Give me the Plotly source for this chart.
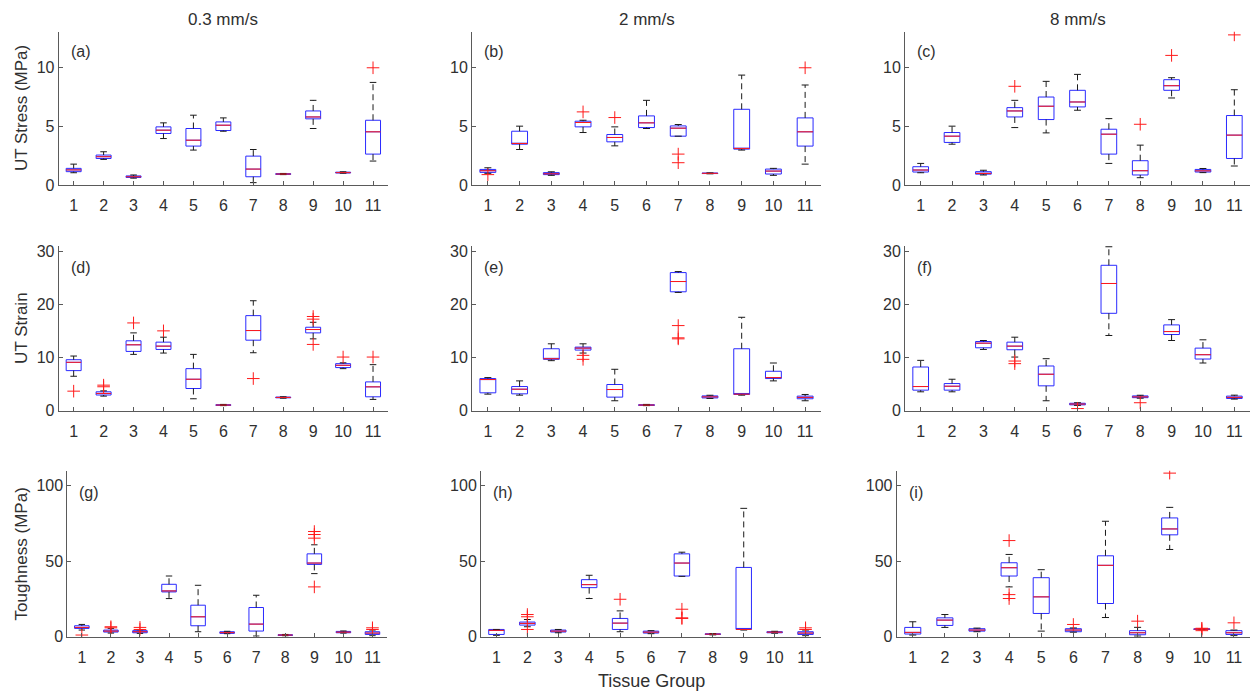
import plotly.graph_objects as go

groups = list(range(1, 12))
col_titles = ["0.3 mm/s", "2 mm/s", "8 mm/s"]
row_titles = ["UT Stress (MPa)", "UT Strain", "Toughness (MPa)"]
panel_tags = ["(a)", "(b)", "(c)", "(d)", "(e)", "(f)", "(g)", "(h)", "(i)"]
x_title = "Tissue Group"

# ---- (a) UT Stress, 0.3 mm/s
a_lo = [1.04, 2.17, 0.58, 3.94, 2.96, 4.56, 0.20, 0.88, 4.79, 1.00, 2.03]
a_q1 = [1.13, 2.25, 0.64, 4.37, 3.30, 4.62, 0.70, 0.90, 5.61, 1.02, 2.62]
a_med = [1.28, 2.40, 0.70, 4.65, 3.80, 5.07, 1.35, 0.93, 5.77, 1.05, 4.51]
a_q3 = [1.41, 2.54, 0.77, 4.93, 4.79, 5.35, 2.45, 0.96, 6.28, 1.09, 5.49]
a_hi = [1.77, 2.82, 0.85, 5.27, 5.92, 5.69, 3.01, 0.98, 7.18, 1.12, 8.70]
a_out = [[], [], [], [], [], [], [], [], [], [], [9.94]]

# ---- (b) UT Stress, 2 mm/s
b_lo = [0.99, 3.01, 0.82, 4.45, 3.32, 4.79, 4.14, 0.95, 2.96, 0.82, 1.77]
b_q1 = [1.07, 3.46, 0.88, 4.93, 3.66, 4.87, 4.14, 0.97, 3.04, 0.93, 3.30]
b_med = [1.21, 3.52, 0.95, 5.30, 4.03, 5.27, 4.82, 0.99, 3.10, 1.18, 4.51]
b_q3 = [1.32, 4.56, 1.05, 5.41, 4.28, 5.86, 5.01, 1.01, 6.42, 1.35, 5.69]
b_hi = [1.46, 4.99, 1.12, 5.49, 4.93, 7.18, 5.13, 1.03, 9.32, 1.41, 8.48]
b_out = [[0.88], [], [], [6.20], [5.72], [], [2.62, 1.89], [], [], [], [9.94]]

# ---- (c) UT Stress, 8 mm/s
c_lo = [1.04, 3.46, 0.85, 4.87, 4.42, 6.34, 1.83, 0.62, 7.38, 1.05, 1.61]
c_q1 = [1.10, 3.61, 0.92, 5.77, 5.55, 6.62, 2.62, 0.85, 8.03, 1.10, 2.25]
c_med = [1.27, 4.14, 0.98, 6.28, 6.68, 7.04, 4.31, 1.21, 8.42, 1.20, 4.23]
c_q3 = [1.55, 4.45, 1.13, 6.56, 7.46, 8.03, 4.73, 2.06, 8.93, 1.32, 5.89]
c_hi = [1.83, 4.99, 1.25, 7.18, 8.79, 9.38, 5.63, 3.38, 9.10, 1.40, 8.08]
c_out = [[], [], [], [8.37], [], [], [], [5.15], [10.99], [], [12.73]]

# ---- (d) UT Strain, 0.3 mm/s
d_lo = [6.47, 2.74, 10.58, 10.83, 2.24, 0.95, 10.89, 2.35, 13.50, 7.90, 2.12]
d_q1 = [7.53, 2.95, 11.14, 11.51, 4.17, 1.00, 13.25, 2.42, 14.62, 8.10, 2.61]
d_med = [9.09, 3.24, 12.38, 12.13, 5.91, 1.06, 15.06, 2.49, 15.25, 8.53, 4.48]
d_q3 = [9.58, 3.55, 13.13, 12.88, 7.90, 1.12, 17.86, 2.56, 15.68, 8.84, 5.41]
d_hi = [10.27, 3.73, 14.62, 13.81, 10.58, 1.18, 20.66, 2.62, 16.61, 9.00, 8.65]
d_out = [[3.67], [4.50, 4.80], [16.49], [15.00], [], [], [6.04], [],
         [17.20, 17.70, 12.45], [10.08], [10.08]]

# ---- (e) UT Strain, 2 mm/s
e_lo = [3.11, 2.92, 9.40, 10.83, 1.87, 0.95, 22.22, 2.30, 2.92, 5.60, 1.87]
e_q1 = [3.36, 3.17, 9.65, 11.39, 2.55, 1.00, 22.34, 2.40, 3.05, 6.04, 2.24]
e_med = [5.85, 4.04, 9.77, 11.76, 3.98, 1.06, 24.27, 2.60, 3.11, 6.22, 2.50]
e_q3 = [6.04, 4.54, 11.64, 11.95, 4.92, 1.12, 25.95, 2.78, 11.64, 7.41, 2.74]
e_hi = [6.22, 5.60, 12.57, 12.57, 7.78, 1.18, 26.14, 2.90, 17.55, 8.96, 3.05]
e_out = [[], [], [], [9.65, 10.40], [], [], [15.99, 13.69, 13.50], [], [], [], []]

# ---- (f) UT Strain, 8 mm/s
f_lo = [3.55, 3.55, 11.51, 10.08, 1.87, 1.00, 14.13, 2.35, 13.19, 8.96, 2.18]
f_q1 = [3.86, 3.86, 11.82, 11.45, 4.67, 1.10, 18.30, 2.45, 14.31, 9.71, 2.30]
f_med = [4.54, 4.60, 12.69, 12.13, 6.85, 1.25, 23.90, 2.60, 14.87, 10.52, 2.50]
f_q3 = [8.21, 5.10, 13.00, 12.88, 8.40, 1.40, 27.32, 2.78, 16.12, 11.76, 2.74]
f_hi = [9.46, 5.91, 13.19, 13.81, 9.77, 1.50, 30.80, 2.90, 17.11, 13.32, 2.92]
f_out = [[], [], [], [9.33, 8.84], [], [0.40], [], [1.50], [], [], []]

# ---- (g) Toughness, 0.3 mm/s
g_lo = [4.40, 2.40, 2.20, 25.27, 3.30, 2.00, 0.44, 0.60, 41.80, 2.40, 0.66]
g_q1 = [5.49, 3.08, 2.60, 29.67, 7.25, 2.20, 3.74, 0.80, 47.90, 2.60, 1.50]
g_med = [6.15, 3.70, 3.30, 30.33, 13.19, 2.70, 8.35, 1.10, 48.80, 3.00, 2.40]
g_q3 = [7.25, 4.40, 4.00, 34.73, 20.88, 3.30, 19.34, 1.30, 54.90, 3.50, 3.30]
g_hi = [8.13, 5.50, 4.60, 40.22, 34.07, 3.60, 27.47, 1.50, 60.90, 3.80, 4.40]
g_out = [[1.10], [5.90, 6.60], [4.80, 6.15], [], [], [], [], [],
         [69.70, 67.70, 65.30, 33.00], [], [4.80, 5.90]]

# ---- (h) Toughness, 2 mm/s
h_lo = [0.90, 6.60, 2.60, 25.30, 3.30, 2.00, 40.00, 1.20, 4.40, 2.30, 0.66]
h_q1 = [1.50, 7.70, 3.10, 32.50, 4.80, 2.40, 40.20, 1.50, 4.80, 2.60, 1.50]
h_med = [4.20, 8.80, 3.70, 34.50, 9.00, 3.00, 48.80, 1.70, 4.80, 3.00, 2.40]
h_q3 = [4.80, 9.70, 4.40, 37.80, 12.10, 3.70, 54.90, 1.90, 45.90, 3.30, 3.30]
h_hi = [4.80, 11.40, 4.80, 40.70, 17.10, 4.00, 56.00, 2.10, 85.05, 3.60, 4.40]
h_out = [[], [14.70, 13.20, 4.80], [], [], [24.80], [], [18.20, 12.50, 12.10],
         [], [], [], [4.80, 5.90]]

# ---- (i) Toughness, 8 mm/s
i_lo = [1.10, 6.15, 3.30, 33.00, 3.70, 3.00, 12.70, 0.40, 57.80, 4.60, 0.70]
i_q1 = [1.76, 7.47, 3.70, 40.20, 15.40, 3.30, 22.00, 1.30, 67.50, 4.80, 1.50]
i_med = [2.86, 11.00, 4.40, 45.70, 26.40, 4.40, 47.30, 2.60, 71.40, 5.00, 2.60]
i_q3 = [6.15, 12.50, 5.30, 49.00, 39.10, 5.30, 53.60, 4.00, 78.70, 5.20, 4.00]
i_hi = [9.89, 14.70, 5.70, 54.50, 44.40, 5.80, 76.50, 6.20, 85.70, 5.40, 4.40]
i_out = [[], [], [], [63.70, 27.90, 25.30], [], [8.10], [], [10.30], [108.40],
         [4.00, 5.60, 5.20], [9.20]]

y_ranges = [[0, 13], [0, 31], [0, 110]]
y_ticks = [[0, 5, 10], [0, 10, 20, 30], [0, 50, 100]]

panels = [
    (a_lo, a_q1, a_med, a_q3, a_hi, a_out),
    (b_lo, b_q1, b_med, b_q3, b_hi, b_out),
    (c_lo, c_q1, c_med, c_q3, c_hi, c_out),
    (d_lo, d_q1, d_med, d_q3, d_hi, d_out),
    (e_lo, e_q1, e_med, e_q3, e_hi, e_out),
    (f_lo, f_q1, f_med, f_q3, f_hi, f_out),
    (g_lo, g_q1, g_med, g_q3, g_hi, g_out),
    (h_lo, h_q1, h_med, h_q3, h_hi, h_out),
    (i_lo, i_q1, i_med, i_q3, i_hi, i_out),
]

# layout geometry (pixels -> paper fractions)
W, H = 1258, 693
col_dom_top = [(58.7, 388.0), (472.0, 821.0), (905.0, 1250.0)]
col_dom_bot = [(67.3, 387.0), (481.0, 821.0), (896.7, 1250.0)]
row_dom = [(31.7, 185.0), (245.7, 410.7), (470.7, 636.7)]

FONT = "Liberation Sans, Arial, Helvetica, sans-serif"
TXT = "#303030"
AX = "#5a5a5a"
BLUE = "#2a2aff"
RED = "#ff1a1a"
BOX_W = 0.5
CAP_H = 0.11

fig = go.Figure()
layout = dict(
    width=W, height=H, margin=dict(l=0, r=0, t=0, b=0),
    paper_bgcolor="white", plot_bgcolor="white", showlegend=False,
    hovermode=False, font=dict(family=FONT, color=TXT),
)
annotations = []

for k, (lo, q1, med, q3, hi, out) in enumerate(panels):
    r, c = divmod(k, 3)
    sfx = "" if k == 0 else str(k + 1)
    xa, ya = "x" + sfx, "y" + sfx
    cd = (col_dom_bot if r == 2 else col_dom_top)[c]
    rd = row_dom[r]
    layout["xaxis" + sfx] = dict(
        domain=[cd[0] / W, cd[1] / W], anchor=ya, range=[0.5, 11.5],
        tickmode="array", tickvals=groups, ticktext=[str(g) for g in groups],
        ticks="inside", ticklen=4, tickcolor=AX, showline=True, linecolor=AX,
        linewidth=1, showgrid=False, zeroline=False, automargin=False,
        ticklabelstandoff=6,
        tickfont=dict(size=16, color=TXT, family=FONT),
    )
    layout["yaxis" + sfx] = dict(
        domain=[1 - rd[1] / H, 1 - rd[0] / H], anchor=xa, range=y_ranges[r],
        tickmode="array", tickvals=y_ticks[r],
        ticks="inside", ticklen=4, tickcolor=AX, showline=True, linecolor=AX,
        linewidth=1, showgrid=False, zeroline=False, automargin=False,
        tickfont=dict(size=16, color=TXT, family=FONT),
    )

    # whiskers (dashed black)
    wx, wy = [], []
    for g, l, a, b, h in zip(groups, lo, q1, q3, hi):
        wx += [g, g, None, g, g, None]
        wy += [b, h, None, a, l, None]
    fig.add_trace(go.Scatter(x=wx, y=wy, mode="lines", xaxis=xa, yaxis=ya,
                             line=dict(color="#1a1a1a", width=1, dash="6px,4px"),
                             hoverinfo="skip"))
    # whisker caps
    cx, cy = [], []
    for g, l, h in zip(groups, lo, hi):
        cx += [g - CAP_H, g + CAP_H, None, g - CAP_H, g + CAP_H, None]
        cy += [h, h, None, l, l, None]
    fig.add_trace(go.Scatter(x=cx, y=cy, mode="lines", xaxis=xa, yaxis=ya,
                             line=dict(color="#1a1a1a", width=1),
                             hoverinfo="skip"))
    # boxes
    fig.add_trace(go.Box(x=groups, q1=q1, median=med, q3=q3,
                         lowerfence=q1, upperfence=q3, width=BOX_W,
                         whiskerwidth=0, boxpoints=False,
                         fillcolor="rgba(0,0,0,0)",
                         line=dict(color=BLUE, width=1),
                         xaxis=xa, yaxis=ya, hoverinfo="skip"))
    # medians (red)
    mx, my = [], []
    for g, m in zip(groups, med):
        mx += [g - BOX_W / 2, g + BOX_W / 2, None]
        my += [m, m, None]
    fig.add_trace(go.Scatter(x=mx, y=my, mode="lines", xaxis=xa, yaxis=ya,
                             line=dict(color=RED, width=1), hoverinfo="skip"))
    # outliers
    ox, oy = [], []
    for g, vals in zip(groups, out):
        for v in vals:
            ox.append(g)
            oy.append(v)
    fig.add_trace(go.Scatter(x=ox, y=oy, mode="markers", xaxis=xa, yaxis=ya,
                             marker=dict(symbol="cross-thin", size=9,
                                         line=dict(color=RED, width=1)),
                             hoverinfo="skip"))

    annotations.append(dict(text=panel_tags[k], xref=xa + " domain",
                            yref=ya + " domain", x=0.03, y=0.87,
                            xanchor="left", yanchor="middle", showarrow=False,
                            font=dict(size=16, color=TXT, family=FONT)))
    if r == 0:
        annotations.append(dict(text=col_titles[c], xref=xa + " domain",
                                yref="paper", x=0.5, y=1 - 19 / H,
                                xanchor="center", yanchor="middle",
                                showarrow=False,
                                font=dict(size=17, color=TXT, family=FONT)))
    if c == 0:
        annotations.append(dict(text=row_titles[r], xref="paper",
                                yref=ya + " domain", x=21.7 / W, y=0.5,
                                xanchor="center", yanchor="middle",
                                textangle=-90, showarrow=False,
                                font=dict(size=17, color=TXT, family=FONT)))
    if r == 2 and c == 1:
        annotations.append(dict(text=x_title, xref=xa + " domain",
                                yref="paper", x=0.5, y=1 - 680.7 / H,
                                xanchor="center", yanchor="middle",
                                showarrow=False,
                                font=dict(size=18, color=TXT, family=FONT)))

layout["annotations"] = annotations
fig.update_layout(**layout)
fig.write_html("out.html")
